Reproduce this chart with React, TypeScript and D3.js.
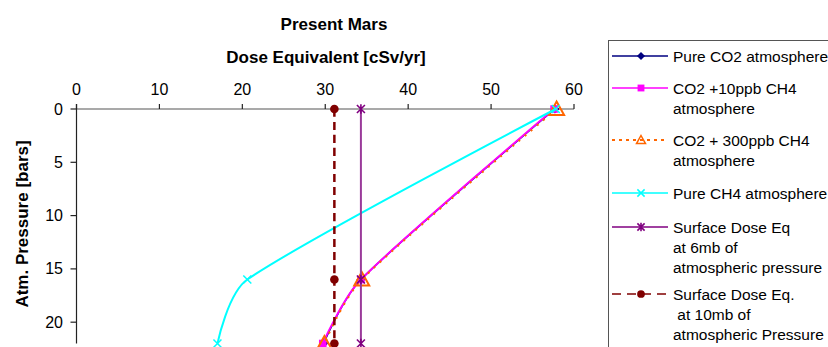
import React from 'react'
import * as d3 from 'd3'

// pressure levels (bars) and dose equivalent values (cSv/yr)
const pressures = [0, 16, 22]
const pureCO2 = [57.7, 34.3, 29.8]
const co2Plus10ppb = [57.6, 34.3, 29.7]
const co2Plus300ppb = [57.9, 34.4, 29.9]
const pureCH4 = [57.8, 20.6, 17.0]
const surface6mb = [34.3, 34.3, 34.3]
const surface10mb = [31.1, 31.1, 31.1]

const xTicks = [0, 10, 20, 30, 40, 50, 60]
const yTicks = [0, 5, 10, 15, 20]

const title = 'Present Mars'
const xTitle = 'Dose Equivalent [cSv/yr]'
const yTitle = 'Atm. Pressure [bars]'

const font = '"Liberation Sans", Arial, sans-serif'

const series = [
  { name: ['Pure CO2 atmosphere'], values: pureCO2, color: '#000080', width: 1.5, dash: null, marker: 'diamond', lineColor: '#000080' },
  { name: ['CO2 +10ppb CH4', 'atmosphere'], values: co2Plus10ppb, color: '#FF00FF', width: 2, dash: null, marker: 'square', lineColor: '#FF00FF' },
  { name: ['CO2 + 300ppb CH4', 'atmosphere'], values: co2Plus300ppb, color: '#FF6600', width: 2, dash: '2,6', marker: 'triangle', lineColor: '#FF6600' },
  { name: ['Pure CH4 atmosphere'], values: pureCH4, color: '#00FFFF', width: 2, dash: null, marker: 'x', lineColor: '#00FFFF' },
  { name: ['Surface Dose Eq', 'at 6mb of', 'atmospheric pressure'], values: surface6mb, color: '#800080', width: 2, dash: null, marker: 'star', lineColor: '#9A3A9A' },
  { name: ['Surface Dose Eq.', ' at 10mb of', 'atmospheric Pressure'], values: surface10mb, color: '#800000', width: 2.5, dash: '8,5', marker: 'circle', lineColor: '#800000' },
]

const Marker = ({ type, cx, cy, color, big = false }) => {
  const s = big ? 1 : 0.9
  if (type === 'diamond') {
    const r = 4.5 * s
    return <path d={`M${cx},${cy - r}L${cx + r},${cy}L${cx},${cy + r}L${cx - r},${cy}Z`} fill={color} />
  }
  if (type === 'square') {
    const r = 3.8 * s
    return <rect x={cx - r} y={cy - r} width={2 * r} height={2 * r} fill={color} />
  }
  if (type === 'triangle') {
    const r = big ? 7.5 : 4.5
    return (
      <path
        d={`M${cx},${cy - r}L${cx + r},${cy + r * 0.8}L${cx - r},${cy + r * 0.8}Z`}
        fill="none"
        stroke={color}
        strokeWidth={big ? 2 : 1.5}
      />
    )
  }
  if (type === 'x') {
    const r = 4 * s
    return <path d={`M${cx - r},${cy - r}L${cx + r},${cy + r}M${cx - r},${cy + r}L${cx + r},${cy - r}`} stroke={color} strokeWidth={1.5} />
  }
  if (type === 'star') {
    const r = 4 * s
    return (
      <path
        d={`M${cx - r},${cy - r}L${cx + r},${cy + r}M${cx - r},${cy + r}L${cx + r},${cy - r}M${cx},${cy - r * 1.2}L${cx},${cy + r * 1.2}`}
        stroke={color}
        strokeWidth={1.6}
      />
    )
  }
  return <circle cx={cx} cy={cy} r={4.3 * s} fill={color} />
}

// Excel-like smoothed line: catmull-rom tangents, handles capped by segment length
const smoothPath = (pts) => {
  const p = d3.path()
  const n = pts.length
  p.moveTo(pts[0][0], pts[0][1])
  const tan = pts.map((pt, i) => {
    if (i === 0 || i === n - 1) return null
    const dx = pts[i + 1][0] - pts[i - 1][0]
    const dy = pts[i + 1][1] - pts[i - 1][1]
    const len = Math.hypot(dx, dy) || 1
    return { ux: dx / len, uy: dy / len, h: len / 6 }
  })
  for (let i = 0; i < n - 1; i++) {
    const a = pts[i]
    const b = pts[i + 1]
    const d = Math.hypot(b[0] - a[0], b[1] - a[1])
    let c1 = a
    let c2 = b
    if (tan[i]) {
      const h = Math.min(tan[i].h, d / 3)
      c1 = [a[0] + tan[i].ux * h, a[1] + tan[i].uy * h]
    }
    if (tan[i + 1]) {
      const h = Math.min(tan[i + 1].h, d / 3)
      c2 = [b[0] - tan[i + 1].ux * h, b[1] - tan[i + 1].uy * h]
    }
    p.bezierCurveTo(c1[0], c1[1], c2[0], c2[1], b[0], b[1])
  }
  return p.toString()
}

const App = () => {
  const x = d3.scaleLinear().domain([0, 60]).range([76.5, 574])
  const y = d3.scaleLinear().domain([0, 22]).range([109, 343.5])

  const line = (vals) => smoothPath(vals.map((v, i) => [x(v), y(pressures[i])]))

  const legendRows = [56, 88, 140, 193, 227, 294]

  return (
    <svg
      width={828}
      height={347}
      style={{ position: 'absolute', left: 0, top: 0, background: '#fff' }}
      fontFamily={font}
    >
      <rect width={828} height={347} fill="#fff" />
      <text x={334} y={30} textAnchor="middle" fontSize={17} fontWeight="bold">{title}</text>
      <text x={326} y={63} textAnchor="middle" fontSize={17} fontWeight="bold">{xTitle}</text>

      {/* x axis on top */}
      <line x1={x(0)} x2={x(60)} y1={y(0)} y2={y(0)} stroke="#555" strokeWidth={1.2} />
      {xTicks.map((t) => (
        <g key={t}>
          <line x1={x(t)} x2={x(t)} y1={y(0) - 5} y2={y(0)} stroke="#222" strokeWidth={1.2} />
          <text x={x(t)} y={95} textAnchor="middle" fontSize={16}>{t}</text>
        </g>
      ))}

      {/* y axis */}
      <line x1={x(0)} x2={x(0)} y1={y(0) - 5} y2={y(22)} stroke="#222" strokeWidth={1.2} />
      {yTicks.map((t) => (
        <g key={t}>
          <line x1={x(0) - 6} x2={x(0)} y1={y(t)} y2={y(t)} stroke="#222" strokeWidth={1.2} />
          <text x={63} y={y(t) + 5.5} textAnchor="end" fontSize={16}>{t}</text>
        </g>
      ))}
      <text
        transform={`translate(28,224) rotate(-90)`}
        textAnchor="middle"
        fontSize={17}
        fontWeight="bold"
      >
        {yTitle}
      </text>

      {series.map((s, k) => (
        <g key={k}>
          <path
            d={line(s.values)}
            fill="none"
            stroke={s.lineColor}
            strokeWidth={s.width}
            strokeDasharray={s.dash || undefined}
          />
          {s.values.map((v, i) => (
            <Marker key={i} type={s.marker} cx={x(v)} cy={y(pressures[i])} color={s.color} big />
          ))}
        </g>
      ))}

      {/* legend */}
      <rect x={608.5} y={40.5} width={240} height={330} fill="#fff" stroke="#555" strokeWidth={1} />
      {series.map((s, k) => {
        const ly = legendRows[k]
        return (
          <g key={k}>
            <line
              x1={612}
              x2={668}
              y1={ly}
              y2={ly}
              stroke={s.color}
              strokeWidth={s.dash === '2,6' ? 2 : 1.5}
              strokeDasharray={s.dash === '2,6' ? '3,4' : s.dash ? '9,6' : undefined}
            />
            <Marker type={s.marker} cx={641} cy={ly} color={s.color} />
            {s.name.map((n, j) => (
              <text key={j} x={673} y={ly + 5.5 + j * 20} fontSize={15.5} style={{ whiteSpace: 'pre' }}>{n}</text>
            ))}
          </g>
        )
      })}
    </svg>
  )
}

export default App
